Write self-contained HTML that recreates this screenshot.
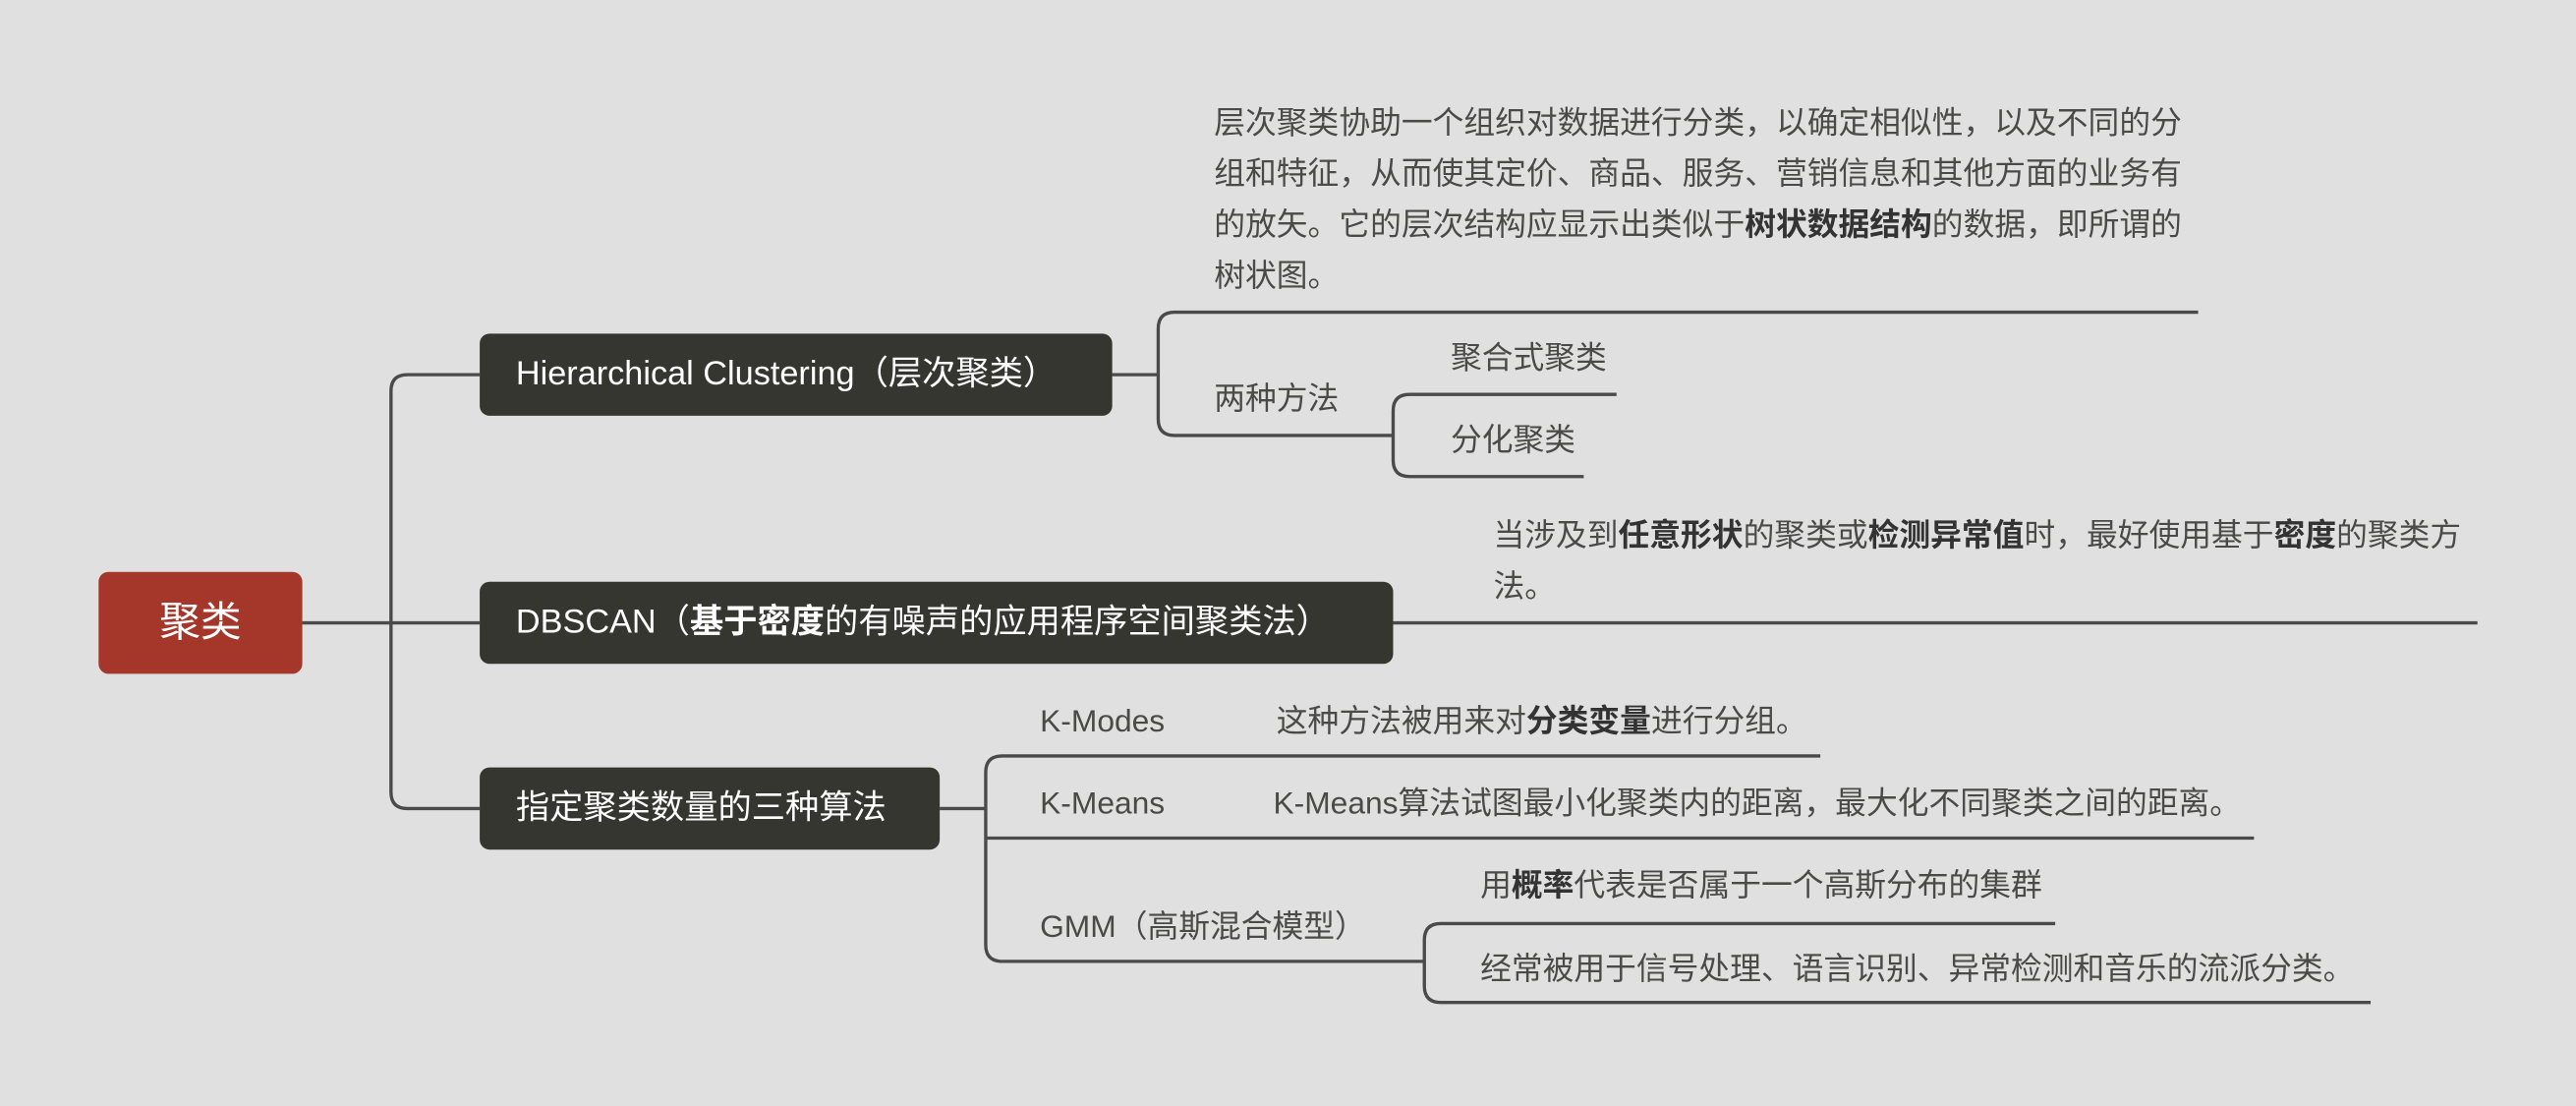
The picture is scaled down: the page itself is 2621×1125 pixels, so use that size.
<!DOCTYPE html>
<html><head><meta charset="utf-8"><style>
html,body{margin:0;padding:0;background:#e0e0e0;overflow:hidden}
#w{position:absolute;left:0;top:0;width:1568px;height:673px;transform:scale(1.67156);transform-origin:0 0;font-family:"Liberation Sans","Noto Sans CJK SC",sans-serif}
.t{position:absolute;white-space:nowrap;line-height:24px;height:24px;font-size:19px;color:#4a4a48}
.t b{color:#333}
.n{position:absolute;background:#363631;border-radius:6px;color:#fff;font-size:20.5px;line-height:50px;height:50px;padding-left:22px;box-sizing:border-box;white-space:nowrap}
.n b{font-weight:bold}
</style></head><body><div id="w">
<svg width="1568" height="673" style="position:absolute;left:0;top:0" fill="none" stroke="#4a4a4a" stroke-width="2">
<path d="M184 379H292"/>
<path d="M292 228H248Q238 228 238 238V482Q238 492 248 492H292"/>
<path d="M677 228H705"/>
<path d="M1338 190H715Q705 190 705 200V255Q705 265 715 265H848"/>
<path d="M984 240H858Q848 240 848 250V280Q848 290 858 290H964"/>
<path d="M848 379H1508"/>
<path d="M572 492H600"/>
<path d="M1108 460H610Q600 460 600 470V575Q600 585 610 585H867"/>
<path d="M600 510H1372"/>
<path d="M1251 562H877Q867 562 867 572V600Q867 610 877 610H1443"/>
</svg>
<div style="position:absolute;left:60px;top:348px;width:124px;height:62px;background:#a5362a;border-radius:6px;color:#fff;font-size:25px;line-height:62px;text-align:center">聚类</div>
<div class="n" style="left:292px;top:203px;width:385px">Hierarchical Clustering（层次聚类）</div>
<div class="n" style="left:292px;top:354px;width:556px">DBSCAN（<b>基于密度</b>的有噪声的应用程序空间聚类法）</div>
<div class="n" style="left:292px;top:467px;width:280px">指定聚类数量的三种算法</div>
<div class="t" style="left:739px;top:64px">层次聚类协助一个组织对数据进行分类，以确定相似性，以及不同的分</div>
<div class="t" style="left:739px;top:95px">组和特征，从而使其定价、商品、服务、营销信息和其他方面的业务有</div>
<div class="t" style="left:739px;top:126px">的放矢。它的层次结构应显示出类似于<b>树状数据结构</b>的数据，即所谓的</div>
<div class="t" style="left:739px;top:157px">树状图。</div>
<div class="t" style="left:739px;top:232px">两种方法</div>
<div class="t" style="left:883px;top:207px">聚合式聚类</div>
<div class="t" style="left:883px;top:257px">分化聚类</div>
<div class="t" style="left:909px;top:315px">当涉及到<b>任意形状</b>的聚类或<b>检测异常值</b>时，最好使用基于<b>密度</b>的聚类方</div>
<div class="t" style="left:909px;top:346px">法。</div>
<div class="t" style="left:633px;top:428px">K-Modes</div>
<div class="t" style="left:777px;top:428px">这种方法被用来对<b>分类变量</b>进行分组。</div>
<div class="t" style="left:633px;top:478px">K-Means</div>
<div class="t" style="left:775px;top:478px">K-Means算法试图最小化聚类内的距离，最大化不同聚类之间的距离。</div>
<div class="t" style="left:633px;top:553px">GMM（高斯混合模型）</div>
<div class="t" style="left:901px;top:528px">用<b>概率</b>代表是否属于一个高斯分布的集群</div>
<div class="t" style="left:901px;top:579px">经常被用于信号处理、语言识别、异常检测和音乐的流派分类。</div>
</div></body></html>
